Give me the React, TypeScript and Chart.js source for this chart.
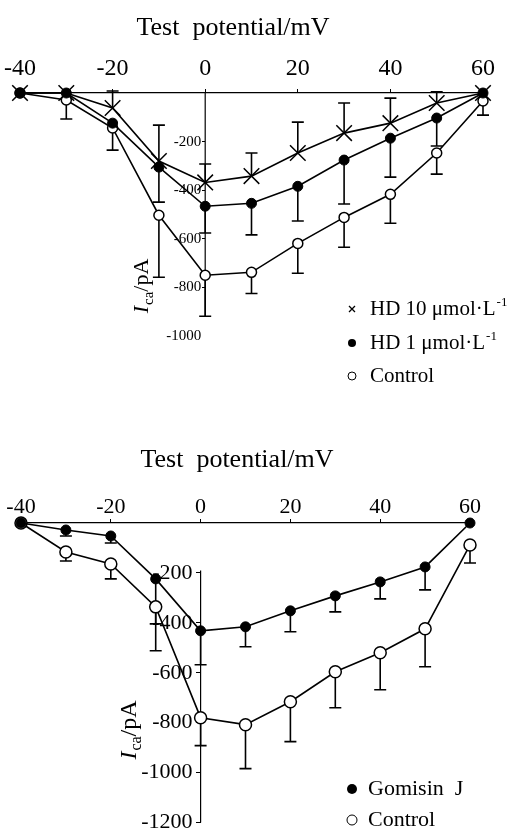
import React, { useEffect, useRef } from 'react';
import { Chart, registerables } from 'chart.js';

Chart.register(...registerables);

const FONT = "'Liberation Serif', 'Times New Roman', Times, serif";

// ---------- data ----------
const voltages = [-40, -30, -20, -10, 0, 10, 20, 30, 40, 50, 60];

// Panel A (HD)
const hd10Values = [0, 0, -62, -280, -368, -342, -247, -165, -124, -41, 0];
const hd10Errors = [0, 0, 70, 148, 76, 95, 127, 124, 103, 46, 0];
const hd1Values = [0, 0, -124, -305, -466, -454, -384, -276, -186, -103, 0];
const hd1Errors = [0, 0, 0, 144, 110, 130, 143, 181, 160, 115, 0];
const controlAValues = [0, -29, -144, -503, -750, -738, -619, -512, -417, -247, -33];
const controlAErrors = [0, 78, 91, 255, 169, 87, 123, 123, 119, 87, 58];

// Panel B (Gomisin J)
const gomisinValues = [0, -28, -52, -224, -432, -416, -352, -292, -236, -176, 0];
const gomisinErrors = [0, 24, 28, 180, 136, 80, 84, 64, 68, 92, 0];
const controlBValues = [0, -116, -164, -336, -780, -808, -716, -596, -520, -424, -88];
const controlBErrors = [0, 36, 60, 176, 112, 176, 160, 144, 148, 152, 72];

const xTitle = 'Test  potential/mV';
const xRange = [-40, 60];
const xStep = 20;
const yRangeA = [-1000, 0];
const yRangeB = [-1200, 0];
const yStep = 200;
const yAxisSpanA = [0, -920];
const yAxisSpanB = [-190, -1200];
const hiddenYTicksA = [0, -1000];
const hiddenYTicksB = [0];

const legendA = [
  { text: 'HD 10 \u03bcmol\u00b7L', sup: '-1', marker: 'cross' },
  { text: 'HD 1 \u03bcmol\u00b7L', sup: '-1', marker: 'filled' },
  { text: 'Control', sup: '', marker: 'open' },
];
const legendB = [
  { text: 'Gomisin  J', sup: '', marker: 'filled' },
  { text: 'Control', sup: '', marker: 'open' },
];

// ---------- helpers ----------
const toPoints = (vals: number[]) => voltages.map((v, i) => ({ x: v, y: vals[i] }));

function drawMarker(ctx: CanvasRenderingContext2D, kind: string, x: number, y: number, r: number) {
  ctx.save();
  ctx.strokeStyle = '#000';
  ctx.fillStyle = '#000';
  if (kind === 'cross') {
    ctx.lineWidth = 1.3;
    ctx.beginPath();
    ctx.moveTo(x - r, y - r);
    ctx.lineTo(x + r, y + r);
    ctx.moveTo(x + r, y - r);
    ctx.lineTo(x - r, y + r);
    ctx.stroke();
  } else if (kind === 'filled') {
    ctx.beginPath();
    ctx.arc(x, y, r, 0, Math.PI * 2);
    ctx.fill();
  } else {
    ctx.lineWidth = 1;
    ctx.fillStyle = '#fff';
    ctx.beginPath();
    ctx.arc(x, y, r, 0, Math.PI * 2);
    ctx.fill();
    ctx.stroke();
  }
  ctx.restore();
}

const decorPlugin = {
  id: 'panelDecor',
  beforeDatasetsDraw(chart: any) {
    const { ctx } = chart;
    const xs = chart.scales.x;
    const ys = chart.scales.y;
    const o = chart.options.plugins.panelDecor;
    // y axis line
    ctx.save();
    ctx.strokeStyle = '#000';
    ctx.lineWidth = 1.2;
    const ax = xs.getPixelForValue(0);
    ctx.beginPath();
    ctx.moveTo(ax, ys.getPixelForValue(o.axisSpan[0]));
    ctx.lineTo(ax, ys.getPixelForValue(o.axisSpan[1]));
    ctx.stroke();
    ctx.restore();
    // error bars
    chart.data.datasets.forEach((ds: any) => {
      const errs: number[] = ds.errors;
      if (!errs) return;
      ctx.save();
      ctx.strokeStyle = '#000';
      ctx.lineWidth = 1.6;
      ds.data.forEach((pt: any, j: number) => {
        const e = errs[j];
        if (!e) return;
        const x = xs.getPixelForValue(pt.x);
        const y0 = ys.getPixelForValue(pt.y);
        const y1 = ys.getPixelForValue(pt.y + ds.errorDir * e);
        ctx.beginPath();
        ctx.moveTo(x, y0);
        ctx.lineTo(x, y1);
        ctx.moveTo(x - o.capHalf, y1);
        ctx.lineTo(x + o.capHalf, y1);
        ctx.stroke();
      });
      ctx.restore();
    });
  },
  afterDraw(chart: any) {
    const { ctx } = chart;
    const o = chart.options.plugins.panelDecor;
    ctx.save();
    ctx.fillStyle = '#000';
    // title
    ctx.font = `${o.titleSize}px ${FONT}`;
    ctx.textAlign = 'center';
    ctx.textBaseline = 'middle';
    ctx.fillText(xTitle, o.titleX, o.titleY);
    // y title: I_ca/pA
    ctx.save();
    ctx.translate(o.yTitleX, o.yTitleY);
    ctx.rotate(-Math.PI / 2);
    ctx.textAlign = 'left';
    ctx.textBaseline = 'alphabetic';
    const fI = `italic ${o.yTitleSize}px ${FONT}`;
    const fS = `${o.yTitleSub}px ${FONT}`;
    const fM = `${o.yTitleSize}px ${FONT}`;
    ctx.font = fI;
    const wI = ctx.measureText('I').width;
    ctx.font = fS;
    const wS = ctx.measureText('ca').width;
    ctx.font = fM;
    const wP = ctx.measureText('/pA').width;
    let tx = -(wI + wS + wP + 1) / 2;
    const base = o.yTitleSize * 0.33;
    ctx.font = fI;
    ctx.fillText('I', tx, base);
    tx += wI + 1;
    ctx.font = fS;
    ctx.fillText('ca', tx, base + o.yTitleSub * 0.3);
    tx += wS;
    ctx.font = fM;
    ctx.fillText('/pA', tx, base);
    ctx.restore();
    // legend
    o.legend.forEach((item: any, i: number) => {
      const y = o.legendY[i];
      drawMarker(ctx, item.marker, o.legendMarkerX, y, item.marker === 'cross' ? o.legendCross : o.legendR);
      ctx.font = `${o.legendSize}px ${FONT}`;
      ctx.textAlign = 'left';
      ctx.textBaseline = 'middle';
      ctx.fillText(item.text, o.legendTextX, y);
      if (item.sup) {
        const w = ctx.measureText(item.text).width;
        ctx.font = `${Math.round(o.legendSize * 0.62)}px ${FONT}`;
        ctx.fillText(item.sup, o.legendTextX + w + 1, y - o.legendSize * 0.3);
      }
    });
    ctx.restore();
  },
};

function IVPanel({ cfg }: { cfg: any }) {
  const ref = useRef<HTMLCanvasElement>(null);
  useEffect(() => {
    if (!ref.current) return;
    const hidden: number[] = cfg.hiddenYTicks;
    const chart = new Chart(ref.current, {
      type: 'line',
      data: { datasets: cfg.datasets },
      options: {
        animation: false,
        responsive: false,
        devicePixelRatio: 1,
        layout: { padding: cfg.padding },
        plugins: {
          legend: { display: false },
          tooltip: { enabled: false },
          title: { display: false },
          panelDecor: cfg.decor,
        } as any,
        scales: {
          x: {
            type: 'linear',
            position: 'top',
            min: xRange[0],
            max: xRange[1],
            ticks: {
              stepSize: xStep,
              color: '#000',
              autoSkip: false,
              maxRotation: 0,
              padding: cfg.xTickPad,
              font: { family: FONT, size: cfg.xTickSize, lineHeight: 1 },
              callback: (v: any) => String(v),
            },
            grid: { display: true, drawOnChartArea: false, drawTicks: true, tickLength: 4, color: '#000', lineWidth: 1 },
            border: { display: true, color: '#000', width: 1.2 },
            afterFit: (s: any) => {
              s.height = cfg.xAxisHeight;
              s.paddingLeft = 0;
              s.paddingRight = 0;
            },
          },
          y: {
            type: 'linear',
            position: { x: 0 },
            min: cfg.yRange[0],
            max: cfg.yRange[1],
            ticks: {
              stepSize: yStep,
              color: '#000',
              padding: cfg.yTickPad,
              font: { family: FONT, size: cfg.yTickSize, lineHeight: 1 },
              callback: (v: any) => (v === 0 ? '' : String(v)),
            },
            grid: {
              display: true,
              drawOnChartArea: false,
              drawTicks: true,
              tickLength: cfg.yTickLen,
              tickColor: (c: any) => (c.tick && hidden.includes(c.tick.value) ? 'rgba(0,0,0,0)' : '#000'),
            },
            border: { display: false },
            afterFit: (s: any) => {
              s.paddingTop = 0;
              s.paddingBottom = 0;
              // labels of an axis placed at x = 0 are drawn flush against it:
              // shift them left by tick length + padding
              if (!s.__shifted) {
                s.__shifted = true;
                const orig = s.drawLabels.bind(s);
                s.drawLabels = (area: any) => {
                  const c = s.ctx;
                  c.save();
                  c.translate(-(cfg.yTickLen + cfg.yTickPad), 0);
                  orig(area);
                  c.restore();
                };
              }
            },
          },
        } as any,
      },
      plugins: [decorPlugin],
    });
    return () => chart.destroy();
  }, [cfg]);
  return <canvas ref={ref} width={517} height={415} style={{ display: 'block', width: 517, height: 415 }} />;
}

const lineBase = { borderColor: '#000', borderWidth: 1.6, tension: 0, clip: false as any, pointBorderColor: '#000' };

const panelA = {
  datasets: [
    { ...lineBase, label: 'HD 10 \u03bcmol\u00b7L-1', data: toPoints(hd10Values), errors: hd10Errors, errorDir: 1, pointStyle: 'crossRot', pointRadius: 11, pointBorderWidth: 1.5, pointBackgroundColor: '#000' },
    { ...lineBase, label: 'HD 1 \u03bcmol\u00b7L-1', data: toPoints(hd1Values), errors: hd1Errors, errorDir: -1, pointStyle: 'circle', pointRadius: 5, pointBorderWidth: 1, pointBackgroundColor: '#000' },
    { ...lineBase, label: 'Control', data: toPoints(controlAValues), errors: controlAErrors, errorDir: -1, pointStyle: 'circle', pointRadius: 5, pointBorderWidth: 1.5, pointBackgroundColor: '#fff' },
  ],
  padding: { left: 20, right: 34, top: 0, bottom: 79 },
  xAxisHeight: 93,
  xTickSize: 24,
  xTickPad: 8,
  yRange: yRangeA,
  yTickSize: 15,
  yTickPad: 1,
  yTickLen: 3,
  hiddenYTicks: hiddenYTicksA,
  decor: {
    axisSpan: yAxisSpanA,
    capHalf: 6,
    titleSize: 26, titleX: 233, titleY: 28,
    yTitleX: 141, yTitleY: 286, yTitleSize: 22, yTitleSub: 15,
    legend: legendA, legendY: [309, 343, 376], legendMarkerX: 352, legendTextX: 370,
    legendSize: 21, legendR: 4, legendCross: 3,
  },
};

const panelB = {
  datasets: [
    { ...lineBase, label: 'Gomisin J', data: toPoints(gomisinValues), errors: gomisinErrors, errorDir: -1, pointStyle: 'circle', pointRadius: 5, pointBorderWidth: 1, pointBackgroundColor: '#000' },
    { ...lineBase, label: 'Control', data: toPoints(controlBValues), errors: controlBErrors, errorDir: -1, pointStyle: 'circle', pointRadius: 6, pointBorderWidth: 1.5, pointBackgroundColor: '#fff' },
  ],
  padding: { left: 21, right: 47, top: 0, bottom: 7 },
  xAxisHeight: 108,
  xTickSize: 22,
  xTickPad: 1,
  yRange: yRangeB,
  yTickSize: 22,
  yTickPad: 3,
  yTickLen: 5,
  hiddenYTicks: hiddenYTicksB,
  decor: {
    axisSpan: yAxisSpanB,
    capHalf: 6,
    titleSize: 26, titleX: 237, titleY: 45,
    yTitleX: 128, yTitleY: 315, yTitleSize: 24, yTitleSub: 16,
    legend: legendB, legendY: [374, 405], legendMarkerX: 352, legendTextX: 368,
    legendSize: 22, legendR: 5, legendCross: 3,
  },
};

export default function App() {
  return (
    <div style={{ position: 'absolute', left: 0, top: 0, width: 517, height: 830, background: '#fff' }}>
      <IVPanel cfg={panelA} />
      <IVPanel cfg={panelB} />
    </div>
  );
}
